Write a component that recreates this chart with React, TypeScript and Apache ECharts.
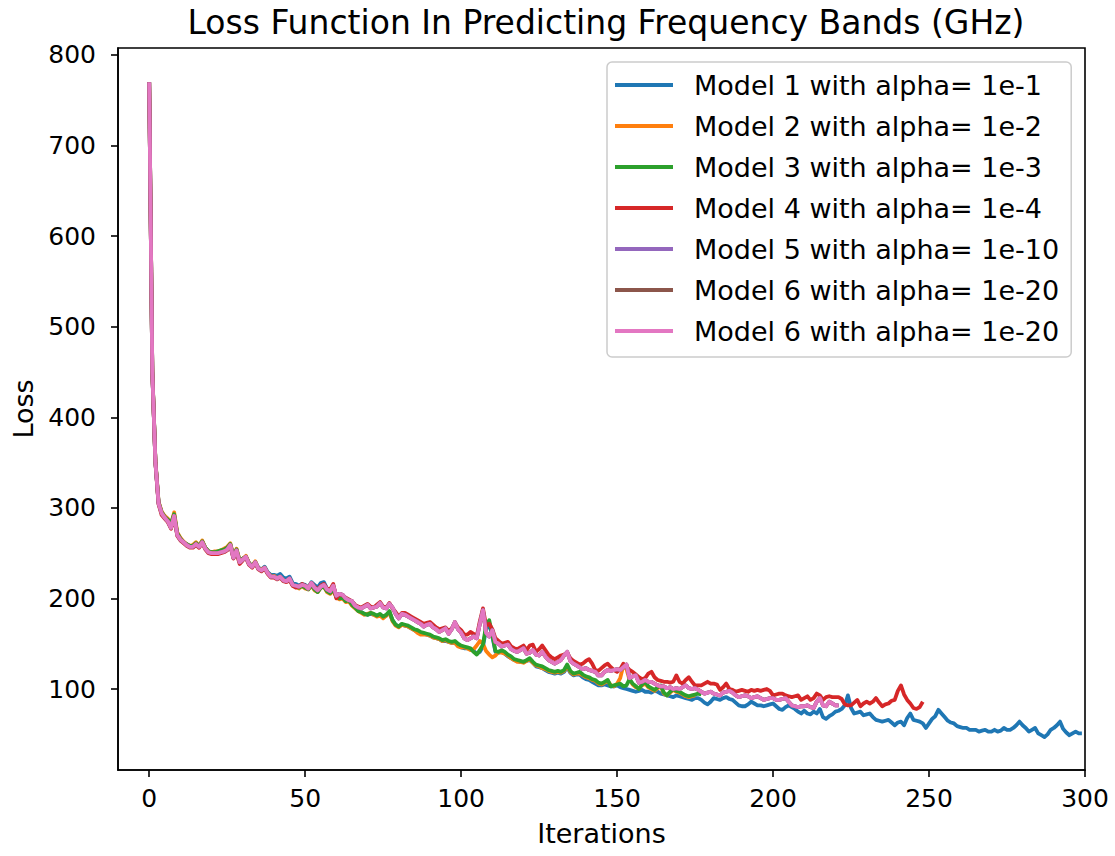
import React, { useEffect, useRef } from "react";
import * as echarts from "echarts";

const legendNames = [
  "Model 1 with alpha= 1e-1",
  "Model 2 with alpha= 1e-2",
  "Model 3 with alpha= 1e-3",
  "Model 4 with alpha= 1e-4",
  "Model 5 with alpha= 1e-10",
  "Model 6 with alpha= 1e-20",
  "Model 6 with alpha= 1e-20",
];
const colors = ["#1f77b4", "#ff7f0e", "#2ca02c", "#d62728", "#9467bd", "#8c564b", "#e377c2"];
const xTicks = [0, 50, 100, 150, 200, 250, 300];
const yTicks = [100, 200, 300, 400, 500, 600, 700, 800];

const model1Loss = [
  770, 451, 351, 306, 295, 290, 286, 282, 292, 271,
  266, 262, 260, 258, 258, 261, 258, 263, 256, 252,
  251, 251, 251, 252, 253, 255, 259, 246, 253, 241,
  244, 246, 239, 236, 240, 234, 232, 235, 229, 226,
  226, 225, 227, 223, 222, 224, 217, 216, 214, 216,
  215, 212, 218, 215, 212, 217, 218, 211, 208, 212,
  202, 201, 201, 197, 197, 193, 190, 187, 185, 183,
  182, 183, 182, 181, 182, 179, 181, 185, 176, 171,
  169, 171, 170, 169, 167, 165, 163, 162, 161, 160,
  159, 157, 156, 155, 153, 153, 152, 151, 151, 148,
  146, 145, 145, 144, 142, 139, 141, 147, 166, 172,
  158, 141, 140, 141, 139, 136, 134, 132, 131, 130,
  130, 131, 132, 129, 125, 124, 123, 121, 119, 118,
  117, 118, 117, 119, 124, 118, 115, 116, 116, 113,
  111, 110, 108, 106, 104, 104, 105, 104, 103, 103,
  104, 102, 101, 100, 99, 98, 97, 98, 99, 97,
  97, 96, 98, 97, 95, 94, 93, 92, 91, 93,
  92, 91, 90, 89, 88, 90, 90, 88, 85, 83,
  86, 90, 89, 88, 90, 91, 89, 88, 85, 82,
  81, 81, 83, 86, 84, 82, 82, 81, 82, 83,
  84, 81, 78, 77, 80, 82, 80, 78, 75, 73,
  76, 73, 72, 75, 73, 78, 69, 67, 70, 72,
  75, 76, 78, 82, 93, 79, 73, 74, 75, 71,
  72, 73, 69, 66, 65, 64, 65, 66, 63, 60,
  63, 64, 60, 68, 73, 66, 65, 64, 62, 57,
  62, 67, 70, 77, 73, 69, 65, 63, 62, 59,
  58, 57, 57, 55, 55, 55, 53, 54, 55, 53,
  53, 55, 53, 54, 57, 55, 55, 57, 60, 64,
  60, 57, 53, 55, 57, 51, 49, 47, 50, 55,
  57, 60, 64, 56, 52, 49, 51, 53, 51, 51,
];

const model2Loss = [
  770, 452, 352, 307, 296, 291, 288, 282, 295, 273,
  267, 263, 260, 258, 259, 262, 258, 264, 256, 252,
  251, 252, 252, 253, 255, 257, 261, 247, 255, 242,
  244, 247, 239, 236, 241, 233, 232, 234, 228, 225,
  225, 222, 224, 220, 219, 221, 214, 213, 211, 214,
  211, 210, 214, 209, 207, 212, 213, 207, 205, 209,
  201, 199, 200, 196, 197, 192, 189, 186, 184, 182,
  183, 184, 182, 180, 181, 178, 181, 185, 175, 170,
  168, 171, 170, 169, 167, 165, 162, 160, 160, 160,
  159, 157, 156, 155, 153, 154, 152, 151, 151, 147,
  146, 146, 145, 143, 144, 148, 153, 150, 142, 138,
  135, 137, 141, 140, 139, 137, 134, 132, 130, 130,
  129, 131, 133, 129, 126, 125, 123, 122, 120, 119,
  118, 119, 118, 120, 125, 119, 116, 117, 117, 115,
  113, 112, 110, 109, 106, 105, 107, 109, 104, 103,
  106, 112, 126, 122, 110, 105, 102, 101, 104, 106,
  102, 100, 98, 101, 103, 95, 93, 96, 99, 97,
  96, 94, 92, 91, 92, 93,
];

const model3Loss = [
  770, 451, 351, 306, 295, 290, 287, 283, 293, 272,
  266, 262, 260, 258, 258, 261, 258, 263, 256, 252,
  251, 251, 252, 253, 254, 256, 260, 247, 254, 242,
  244, 246, 239, 236, 240, 233, 231, 234, 228, 225,
  224, 222, 224, 220, 219, 221, 215, 213, 212, 214,
  212, 210, 215, 210, 207, 212, 213, 208, 206, 210,
  202, 200, 201, 197, 198, 193, 190, 186, 185, 183,
  182, 184, 183, 181, 183, 180, 182, 186, 176, 171,
  169, 172, 171, 170, 168, 166, 165, 163, 162, 161,
  160, 158, 157, 156, 154, 155, 153, 152, 153, 150,
  148, 147, 146, 145, 141, 138, 143, 149, 170, 176,
  160, 142, 141, 143, 141, 138, 136, 133, 132, 131,
  130, 132, 134, 130, 127, 126, 125, 123, 121, 120,
  119, 120, 119, 121, 127, 120, 117, 118, 119, 116,
  114, 113, 111, 110, 107, 106, 108, 110, 103, 104,
  105, 106, 103, 104, 111, 106, 103, 100, 105, 108,
  103, 101, 99, 102, 104, 96, 93, 97, 100, 98,
  97, 95, 93, 92, 93, 94, 95, 94,
];

const model4Loss = [
  770, 450, 350, 304, 292, 288, 284, 277, 290, 269,
  264, 261, 258, 256, 256, 259, 256, 261, 254, 250,
  249, 249, 249, 250, 251, 253, 258, 244, 250, 238,
  242, 245, 237, 234, 239, 232, 230, 233, 227, 223,
  223, 221, 223, 219, 218, 220, 214, 212, 213, 216,
  214, 212, 217, 213, 210, 214, 216, 211, 210, 216,
  200, 205, 203, 201, 199, 197, 193, 191, 190, 192,
  194, 191, 190, 193, 196, 191, 190, 195, 189, 185,
  180, 184, 184, 182, 180, 178, 176, 174, 172, 173,
  174, 171, 168, 166, 167, 168, 164, 167, 173, 168,
  165, 160, 160, 163, 161, 158, 175, 189, 170, 172,
  166, 156, 153, 150, 151, 152, 147, 145, 144, 146,
  148, 143, 148, 149, 141, 144, 148, 143, 138, 135,
  133, 135, 137, 138, 140, 134, 131, 129, 127, 128,
  131, 133, 128, 121, 120, 123, 126, 128, 124, 121,
  119, 122, 128, 125, 121, 119, 116, 113, 111, 112,
  117, 119, 113, 110, 109, 108, 108, 107, 108, 115,
  108, 106, 110, 113, 108, 104, 104, 104, 106, 108,
  106, 106, 105, 99, 102, 106, 100, 99, 97, 98,
  99, 98, 97, 99, 98, 99, 98, 99, 100, 98,
  93, 94, 95, 95, 93, 92, 91, 92, 93, 88,
  90, 92, 88, 90, 95, 93, 88, 91, 92, 91,
  91, 91, 89, 83, 82, 82, 85, 88, 81, 84,
  86, 84, 86, 90, 85, 81, 83, 84, 87, 88,
  98, 104, 94, 88, 84, 79, 78, 80, 86,
];

const model6Loss = [
  770, 450, 350, 305, 294, 289, 285, 278, 291, 270,
  265, 262, 259, 257, 257, 260, 257, 262, 255, 251,
  250, 250, 250, 251, 252, 254, 259, 245, 253, 240,
  243, 246, 238, 235, 240, 233, 231, 234, 228, 224,
  224, 222, 224, 220, 219, 222, 215, 214, 213, 215,
  214, 211, 217, 212, 209, 213, 215, 210, 208, 214,
  203, 205, 204, 200, 198, 197, 192, 190, 189, 191,
  193, 189, 190, 191, 195, 190, 189, 194, 190, 183,
  178, 183, 182, 180, 178, 176, 174, 172, 169, 171,
  172, 168, 166, 163, 165, 167, 161, 166, 174, 166,
  162, 156, 154, 156, 158, 156, 172, 187, 162, 158,
  165, 152, 150, 147, 148, 149, 144, 142, 141, 143,
  145, 139, 140, 143, 138, 137, 141, 136, 132, 130,
  128, 130, 132, 137, 141, 131, 128, 126, 124, 122,
  123, 121, 120, 119, 115, 115, 119, 121, 120, 121,
  122, 121, 124, 127, 112, 114, 115, 107, 108, 110,
  108, 108, 106, 104, 103, 103, 101, 102, 100, 101,
  100, 102, 104, 101, 100, 101, 99, 97, 95, 96,
  97, 95, 94, 93, 96, 97, 98, 96, 93, 91,
  92, 93, 92, 90, 91, 92, 90, 88, 89, 90,
  90, 88, 88, 89, 90, 86, 82, 81, 80, 81,
  81, 82, 80, 79, 86, 90, 82, 81, 86, 84,
  82, 82,
];

const seriesValues = [model1Loss, model2Loss, model3Loss, model4Loss, model6Loss, model6Loss, model6Loss];

const FONT = "DejaVu Sans";
// ECharts merges legend entries with equal names; a zero-width marker keeps the duplicated label as its own entry.
const ZW = "\u200b";
const seriesIds = legendNames.map((n, i) => n + ZW.repeat(i));

export default function App() {
  const ref = useRef<HTMLDivElement>(null);
  useEffect(() => {
    if (!ref.current) return;
    const chart = echarts.init(ref.current, null, { renderer: "svg" });
    chart.setOption({
      animation: false,
      backgroundColor: "#ffffff",
      title: {
        text: "Loss Function In Predicting Frequency Bands (GHz)",
        left: 601,
        top: 1,
        textAlign: "center",
        textStyle: { fontFamily: FONT, fontSize: 33, fontWeight: "normal", color: "#000" },
      },
      grid: {
        left: 118,
        right: 30,
        top: 48,
        bottom: 86,
        show: true,
        borderColor: "#000",
        borderWidth: 1.6,
        backgroundColor: "transparent",
      },
      legend: {
        orient: "vertical",
        left: 607,
        top: 62,
        padding: [8, 12, 11, 8],
        itemGap: 11,
        itemWidth: 58,
        itemHeight: 4,
        icon: "rect",
        borderColor: "#cccccc",
        borderWidth: 1.5,
        borderRadius: 5,
        backgroundColor: "rgba(255,255,255,0.8)",
        formatter: (name: string) => name.split(ZW).join(""),
        textStyle: {
          fontFamily: FONT,
          fontSize: 27,
          color: "#000",
          lineHeight: 30,
          padding: [0, 0, 0, 16],
        },
        data: seriesIds.map((n, i) => ({ name: n, itemStyle: { color: colors[i] } })),
      },
      xAxis: {
        type: "value",
        min: -10,
        max: 300,
        name: "Iterations",
        nameLocation: "middle",
        nameGap: 50,
        nameTextStyle: { fontFamily: FONT, fontSize: 27, color: "#000" },
        axisLine: { show: true, onZero: false, lineStyle: { color: "#000", width: 1.6 } },
        axisTick: { show: true, length: 7, lineStyle: { color: "#000", width: 1.6 }, customValues: xTicks },
        axisLabel: { fontFamily: FONT, fontSize: 25, color: "#000", margin: 16, customValues: xTicks },
        splitLine: { show: false },
      },
      yAxis: {
        type: "value",
        min: 10.6,
        max: 807.7,
        name: "Loss",
        nameLocation: "middle",
        nameGap: 70,
        nameRotate: 90,
        nameTextStyle: { fontFamily: FONT, fontSize: 27, color: "#000" },
        axisLine: { show: true, onZero: false, lineStyle: { color: "#000", width: 1.6 } },
        axisTick: { show: true, length: 7, lineStyle: { color: "#000", width: 1.6 }, customValues: yTicks },
        axisLabel: { fontFamily: FONT, fontSize: 25, color: "#000", margin: 22, customValues: yTicks },
        splitLine: { show: false },
      },
      series: seriesValues.map((vals, i) => ({
        name: seriesIds[i],
        type: "line",
        data: vals.map((v, k) => [k, v]),
        showSymbol: false,
        symbol: "none",
        color: colors[i],
        lineStyle: { color: colors[i], width: 3.8, join: "round" },
        emphasis: { disabled: true },
        z: 2 + i,
      })),
    });
    return () => chart.dispose();
  }, []);
  return (
    <div
      ref={ref}
      style={{ position: "fixed", left: 0, top: 0, width: 1115, height: 856, background: "#fff" }}
    />
  );
}
